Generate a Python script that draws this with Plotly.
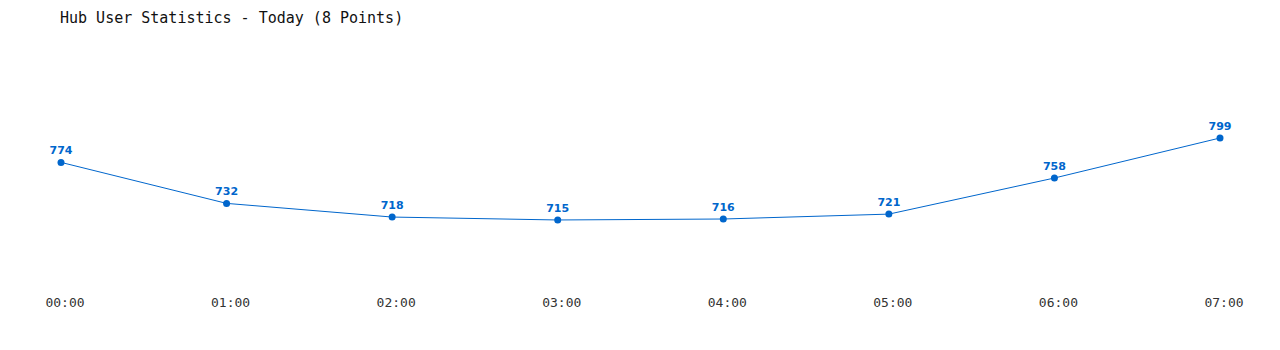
import plotly.graph_objects as go

hours = ["00:00", "01:00", "02:00", "03:00", "04:00", "05:00", "06:00", "07:00"]
users = [774, 732, 718, 715, 716, 721, 758, 799]

x_idx = list(range(len(hours)))

fig = go.Figure()
fig.add_trace(go.Scatter(
    x=x_idx, y=users, mode="lines+markers+text",
    line=dict(color="#0066cc", width=1),
    marker=dict(color="#0066cc", size=7),
    text=[str(v) for v in users],
    textposition="top center",
    cliponaxis=False,
    textfont=dict(family="DejaVu Sans", size=11, color="#0066cc", weight="bold"),
    hoverinfo="skip",
))

fig.update_layout(
    width=1280, height=350,
    paper_bgcolor="white", plot_bgcolor="white",
    margin=dict(l=61, r=60, t=40, b=70),
    showlegend=False,
    title=dict(text="Hub User Statistics - Today (8 Points)", x=60/1280, xanchor="left",
               y=1 - 18/350, yanchor="middle",
               font=dict(family="DejaVu Sans Mono", size=15, color="#111111")),
    xaxis=dict(range=[0, 7], tickvals=x_idx, ticktext=hours, showgrid=False, zeroline=False,
               showline=False, ticks="", ticklabelshift=4, ticklabelstandoff=13,
               tickfont=dict(family="DejaVu Sans Mono", size=13, color="#333333")),
    yaxis=dict(range=[653.5, 899.4], visible=False),
)

fig.write_html("out.html")
